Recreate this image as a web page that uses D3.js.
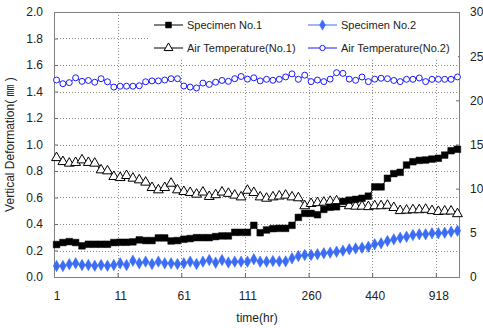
<!DOCTYPE html>
<html><head><meta charset="utf-8">
<script src="https://cdn.jsdelivr.net/npm/d3@7"></script>
<style>
html,body{margin:0;padding:0;background:#fff;}
text{font-family:"Liberation Sans",Arial,"Noto Sans CJK KR",sans-serif;fill:#222;}
</style></head>
<body>
<svg id="chart" width="483" height="328"></svg>
<script>
const timeLabels = ["1","11","61","111","260","440","918"];
const leftTicks = [0.0,0.2,0.4,0.6,0.8,1.0,1.2,1.4,1.6,1.8,2.0];
const rightTicks = [0,5,10,15,20,25,30];

const specimen1 = [0.245,0.26,0.267,0.26,0.235,0.247,0.247,0.247,0.247,0.26,
 0.262,0.262,0.265,0.28,0.275,0.275,0.295,0.295,0.272,0.275,
 0.285,0.29,0.297,0.297,0.297,0.305,0.31,0.31,0.337,0.337,
 0.337,0.39,0.334,0.355,0.365,0.367,0.367,0.39,0.45,0.48,
 0.48,0.47,0.51,0.526,0.53,0.57,0.58,0.586,0.594,0.61,
 0.68,0.68,0.745,0.78,0.79,0.845,0.87,0.88,0.883,0.89,
 0.896,0.92,0.953,0.964];
const specimen2 = [0.083,0.083,0.096,0.103,0.09,0.09,0.085,0.09,0.085,0.09,
 0.103,0.09,0.123,0.103,0.116,0.098,0.116,0.103,0.103,0.098,
 0.103,0.116,0.098,0.116,0.128,0.108,0.128,0.11,0.116,0.116,
 0.116,0.134,0.116,0.116,0.12,0.118,0.118,0.141,0.158,0.166,
 0.166,0.171,0.179,0.184,0.191,0.199,0.209,0.216,0.221,0.229,
 0.247,0.254,0.272,0.284,0.297,0.304,0.317,0.322,0.322,0.33,
 0.33,0.334,0.342,0.349];
const airTemp1 = [13.5,13.05,12.87,12.95,13.24,12.95,12.87,12.11,12.0,11.36,
 11.24,11.47,11.17,10.98,10.72,10.11,9.85,10.11,10.6,9.85,
 9.66,9.55,9.36,9.6,9.1,9.3,9.6,9.45,9.25,9.05,
 9.8,9.55,9.05,8.9,9.05,9.15,9.25,9.05,8.95,8.05,
 8.3,8.4,8.45,8.55,8.6,8.3,8.05,8.0,8.0,7.95,
 8.05,8.05,8.1,7.85,7.5,7.55,7.6,7.6,7.65,7.5,
 7.4,7.45,7.45,7.15];
const airTemp2 = [22.3,21.88,22.0,22.55,22.15,22.25,22.05,22.45,22.1,21.5,
 21.6,21.6,21.6,21.65,22.1,22.2,22.2,22.3,22.45,22.45,
 21.62,21.5,21.4,21.95,21.8,22.05,22.25,22.15,22.45,22.7,
 22.4,22.55,22.2,22.38,22.27,22.38,22.65,23.0,22.38,22.85,
 22.12,22.3,22.12,22.4,23.13,23.05,22.4,22.27,22.64,22.12,
 22.4,22.5,22.45,22.25,22.12,22.38,22.38,22.53,22.12,22.38,
 22.38,22.38,22.38,22.65];

const L = 54, R = 460, T = 12, B = 277;
const svg = d3.select("#chart");
svg.append("rect").attr("width",483).attr("height",328).attr("fill","#fff");

const x = d3.scaleLinear().domain([0, 63.8]).range([L, R]);
const yL = d3.scaleLinear().domain([0, 2]).range([B, T]);
const yR = d3.scaleLinear().domain([0, 30]).range([B, T]);
const tickIdx = timeLabels.map((d,i)=>i*10);
const px = i => x(i + 0.4);

// grid
const grid = svg.append("g").attr("stroke","#8a8a8a").attr("stroke-dasharray","1,2").attr("stroke-width",1);
leftTicks.filter(v=>v>0 && v<2).forEach(v=>{
  grid.append("line").attr("x1",L).attr("x2",R).attr("y1",Math.round(yL(v))+0.5).attr("y2",Math.round(yL(v))+0.5);
});
tickIdx.filter(v=>v>0).forEach(v=>{
  grid.append("line").attr("y1",T).attr("y2",B).attr("x1",Math.round(x(v))+0.5).attr("x2",Math.round(x(v))+0.5);
});

// axes
const axL = svg.append("g").attr("transform",`translate(${L},0)`)
  .call(d3.axisLeft(yL).tickValues(leftTicks).tickFormat(d3.format(".1f")).tickSizeInner(-4).tickSizeOuter(0).tickPadding(11));
const axR = svg.append("g").attr("transform",`translate(${R},0)`)
  .call(d3.axisRight(yR).tickValues(rightTicks).tickFormat(d3.format("d")).tickSizeInner(-4).tickSizeOuter(0).tickPadding(10));
const axB = svg.append("g").attr("transform",`translate(0,${B})`)
  .call(d3.axisBottom(x).tickValues(tickIdx).tickFormat((d,i)=>timeLabels[i]).tickSizeInner(-4).tickSizeOuter(0).tickPadding(14));
[axL,axR,axB].forEach(a=>{
  a.select(".domain").remove();
  a.selectAll(".tick line").attr("stroke","#666");
  a.selectAll("text").attr("font-size",12).attr("fill","#222");
});
axB.selectAll("text").attr("dx",2.5);
axB.selectAll(".tick").filter(d=>d===0).select("line").remove();

// frame
svg.append("rect").attr("x",L+0.5).attr("y",T+0.5).attr("width",R-L-1).attr("height",B-T)
  .attr("fill","none").attr("stroke","#808080").attr("stroke-width",1);

// series
const series = [
  {name:"Air Temperature(No.1)", values:airTemp1, y:yR, color:"#000", marker:"triangle", fill:"#fff", size:42},
  {name:"Air Temperature(No.2)", values:airTemp2, y:yR, color:"#1a1aff", marker:"circle", fill:"#fff", size:28},
  {name:"Specimen No.2", values:specimen2, y:yL, color:"#3a6cf5", marker:"diamond", fill:"#3a6cf5", size:38},
  {name:"Specimen No.1", values:specimen1, y:yL, color:"#000", marker:"square", fill:"#000", size:44}
];
const symType = {triangle:d3.symbolTriangle, circle:d3.symbolCircle, diamond:d3.symbolDiamond, square:d3.symbolSquare};

series.forEach(s=>{
  const g = svg.append("g");
  g.append("path").datum(s.values)
    .attr("d", d3.line().x((d,i)=>px(i)).y(d=>s.y(d)))
    .attr("fill","none").attr("stroke",s.color).attr("stroke-width",1);
  g.selectAll("path.m").data(s.values).join("path").attr("class","m")
    .attr("transform",(d,i)=>`translate(${px(i)},${s.y(d)})`)
    .attr("d", d3.symbol().type(symType[s.marker]).size(s.size))
    .attr("fill",s.fill).attr("stroke",s.color).attr("stroke-width", s.marker==="diamond"||s.marker==="square"?0.5:1);
});

// legend
const leg = svg.append("g");
leg.append("rect").attr("x",148).attr("y",14).attr("width",310).attr("height",46).attr("fill","#fff");
const legendItems = [
  {s:series[3], x:154, y:25},
  {s:series[2], x:308, y:25},
  {s:series[0], x:154, y:48},
  {s:series[1], x:308, y:48}
];
legendItems.forEach(it=>{
  const s = it.s;
  leg.append("line").attr("x1",it.x).attr("x2",it.x+29).attr("y1",it.y).attr("y2",it.y)
    .attr("stroke",s.color).attr("stroke-width",1);
  leg.append("path").attr("transform",`translate(${it.x+14.5},${it.y})`)
    .attr("d", d3.symbol().type(symType[s.marker]).size(s.size*0.8))
    .attr("fill",s.fill).attr("stroke",s.color).attr("stroke-width", s.marker==="diamond"||s.marker==="square"?0.5:1);
  leg.append("text").attr("x",it.x+33).attr("y",it.y).attr("dy","0.35em")
    .attr("font-size",11).text(s.name);
});

// axis titles
svg.append("text").attr("x",(L+R)/2).attr("y",322).attr("text-anchor","middle")
  .attr("font-size",12).text("time(hr)");
const yt = svg.append("text").attr("transform",`translate(14,${(T+B)/2}) rotate(-90)`).attr("text-anchor","middle")
  .attr("font-size",12);
yt.append("tspan").text("Vertical Deformation( ");
yt.append("tspan").style("font-family","'Noto Sans CJK KR'").text("㎜");
yt.append("tspan").text(" )");
</script>
</body></html>
